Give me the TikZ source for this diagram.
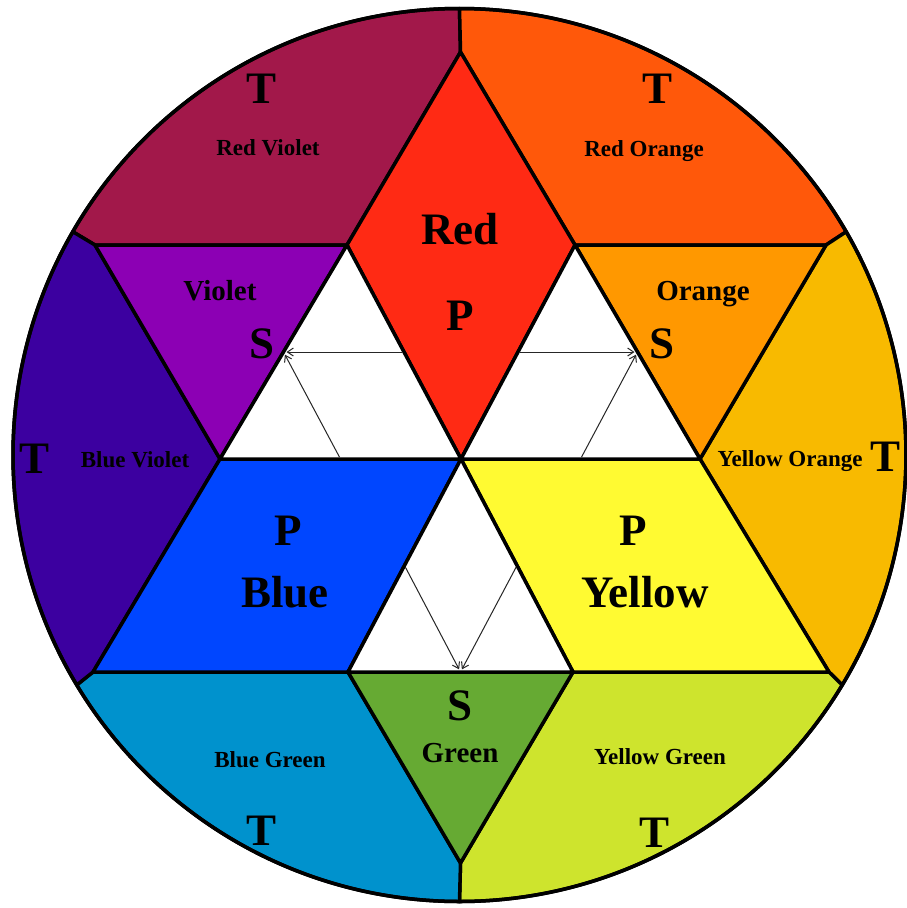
\documentclass[tikz,border=0pt]{standalone}
\usepackage{fontspec}
\setmainfont{Liberation Serif}
\usetikzlibrary{arrows.meta,calc}
\definecolor{cRedViolet}{RGB}{162,24,74}
\definecolor{cRedOrange}{RGB}{255,88,10}
\definecolor{cRed}{RGB}{255,42,20}
\definecolor{cOrange}{RGB}{255,152,0}
\definecolor{cYellowOrange}{RGB}{248,186,0}
\definecolor{cYellow}{RGB}{255,250,50}
\definecolor{cYellowGreen}{RGB}{206,228,45}
\definecolor{cGreen}{RGB}{102,170,51}
\definecolor{cBlueGreen}{RGB}{0,146,205}
\definecolor{cBlue}{RGB}{0,70,255}
\definecolor{cBlueViolet}{RGB}{60,0,160}
\definecolor{cViolet}{RGB}{140,0,180}

\begin{document}
\begin{tikzpicture}[x=1pt,y=-1pt,
  region/.style={draw=black, line width=3.5pt, line join=round},
  big/.style={font=\fontsize{45}{54}\selectfont\bfseries, anchor=base, inner sep=0pt},
  mid/.style={font=\fontsize{29}{35}\selectfont\bfseries, anchor=base, inner sep=0pt},
  small/.style={font=\fontsize{23}{28}\selectfont\bfseries, anchor=base, inner sep=0pt},
  mix/.style={-{Straight Barb[length=6pt,width=8pt]}, draw=black!85, line width=1pt,
    shorten <=2pt, shorten >=3pt}]
\useasboundingbox (0,0) rectangle (907,908);

% corners of the star
\coordinate (c) at (459.5,455);
\coordinate (o) at (461,459);
\coordinate (rt) at (460.5,52);
\coordinate (rl) at (347,245);
\coordinate (rr) at (575,245);
\coordinate (vl) at (95,245);
\coordinate (or) at (826,245);
\coordinate (wl) at (220,459);
\coordinate (wr) at (700,459);
\coordinate (bl) at (93,672);
\coordinate (yr) at (829,672);
\coordinate (gl) at (348,672);
\coordinate (gr) at (573,672);
\coordinate (gb) at (460.5,863);
\foreach \n/\a in {k1/-90,k2/-150,k3/149,k4/90,k5/31,k6/-30}
  \path (c) ++(\a:446.5) coordinate (\n);

% tertiary
\filldraw[region, fill=cRedViolet] (k2) -- (vl) -- (rl) -- (rt) -- (k1) arc[start angle=-90, end angle=-150, radius=446.5] -- cycle;
\filldraw[region, fill=cRedOrange] (k1) -- (rt) -- (rr) -- (or) -- (k6) arc[start angle=-30, end angle=-90, radius=446.5] -- cycle;
\filldraw[region, fill=cYellowOrange] (k6) -- (or) -- (wr) -- (yr) -- (k5) arc[start angle=31, end angle=-30, radius=446.5] -- cycle;
\filldraw[region, fill=cYellowGreen] (k5) -- (yr) -- (gr) -- (gb) -- (k4) arc[start angle=90, end angle=31, radius=446.5] -- cycle;
\filldraw[region, fill=cBlueGreen] (k4) -- (gb) -- (gl) -- (bl) -- (k3) arc[start angle=149, end angle=90, radius=446.5] -- cycle;
\filldraw[region, fill=cBlueViolet] (k3) -- (bl) -- (wl) -- (vl) -- (k2) arc[start angle=210, end angle=149, radius=446.5] -- cycle;

% primary and secondary
\filldraw[region, fill=cRed] (rt) -- (rl) -- (o) -- (rr) -- cycle;
\filldraw[region, fill=cBlue] (wl) -- (o) -- (gl) -- (bl) -- cycle;
\filldraw[region, fill=cYellow] (o) -- (wr) -- (yr) -- (gr) -- cycle;
\filldraw[region, fill=cViolet] (vl) -- (rl) -- (wl) -- cycle;
\filldraw[region, fill=cOrange] (rr) -- (or) -- (wr) -- cycle;
\filldraw[region, fill=cGreen] (gl) -- (gr) -- (gb) -- cycle;
\filldraw[region, fill=white] (rl) -- (o) -- (wl) -- cycle;
\filldraw[region, fill=white] (rr) -- (wr) -- (o) -- cycle;
\filldraw[region, fill=white] (o) -- (gr) -- (gl) -- cycle;
\draw[line width=3.5pt] (c) circle (446.5);

% mixing arrows
\coordinate (lr) at ($(rl)!0.5!(o)$);
\coordinate (lb) at ($(o)!0.5!(wl)$);
\coordinate (lv) at ($(wl)!0.5!(rl)$);
\coordinate (rrd) at ($(rr)!0.5!(o)$);
\coordinate (ry) at ($(o)!0.5!(wr)$);
\coordinate (ro) at ($(wr)!0.5!(rr)$);
\coordinate (bb) at ($(o)!0.5!(gl)$);
\coordinate (by) at ($(o)!0.5!(gr)$);
\coordinate (bg) at ($(gl)!0.5!(gr)$);
\draw[mix] (lr) -- (lv);
\draw[mix] (lb) -- (lv);
\draw[mix] (rrd) -- (ro);
\draw[mix] (ry) -- (ro);
\draw[mix] (bb) -- (bg);
\draw[mix] (by) -- (bg);

% labels
\node[big] (tRV) at (262,103) {T};
\node[small] (nRV) at (268,155) {Red Violet};
\node[big] (tRO) at (658,103) {T};
\node[small] (nRO) at (644,156) {Red Orange};
\node[big] (nR) at (460,244) {Red};
\node[big] (pR) at (460,330) {P};
\node[mid] (nV) at (220,300) {Violet};
\node[big] (sV) at (262,358) {S};
\node[mid] (nO) at (703,300) {Orange};
\node[big] (sO) at (662,358) {S};
\node[big] (tBV) at (35,473) {T};
\node[small] (nBV) at (135,467) {Blue Violet};
\node[small] (nYO) at (790,466) {Yellow Orange};
\node[big] (tYO) at (885,471) {T};
\node[big] (pB) at (288,545) {P};
\node[big] (nB) at (285,607) {Blue};
\node[big] (pY) at (633,545) {P};
\node[big] (nY) at (645,607) {Yellow};
\node[big] (sG) at (460,720) {S};
\node[mid] (nG) at (460,762) {Green};
\node[small] (nBG) at (270,767) {Blue Green};
\node[big] (tBG) at (262,845) {T};
\node[small] (nYG) at (660,764) {Yellow Green};
\node[big] (tYG) at (655,847) {T};
\end{tikzpicture}
\end{document}
